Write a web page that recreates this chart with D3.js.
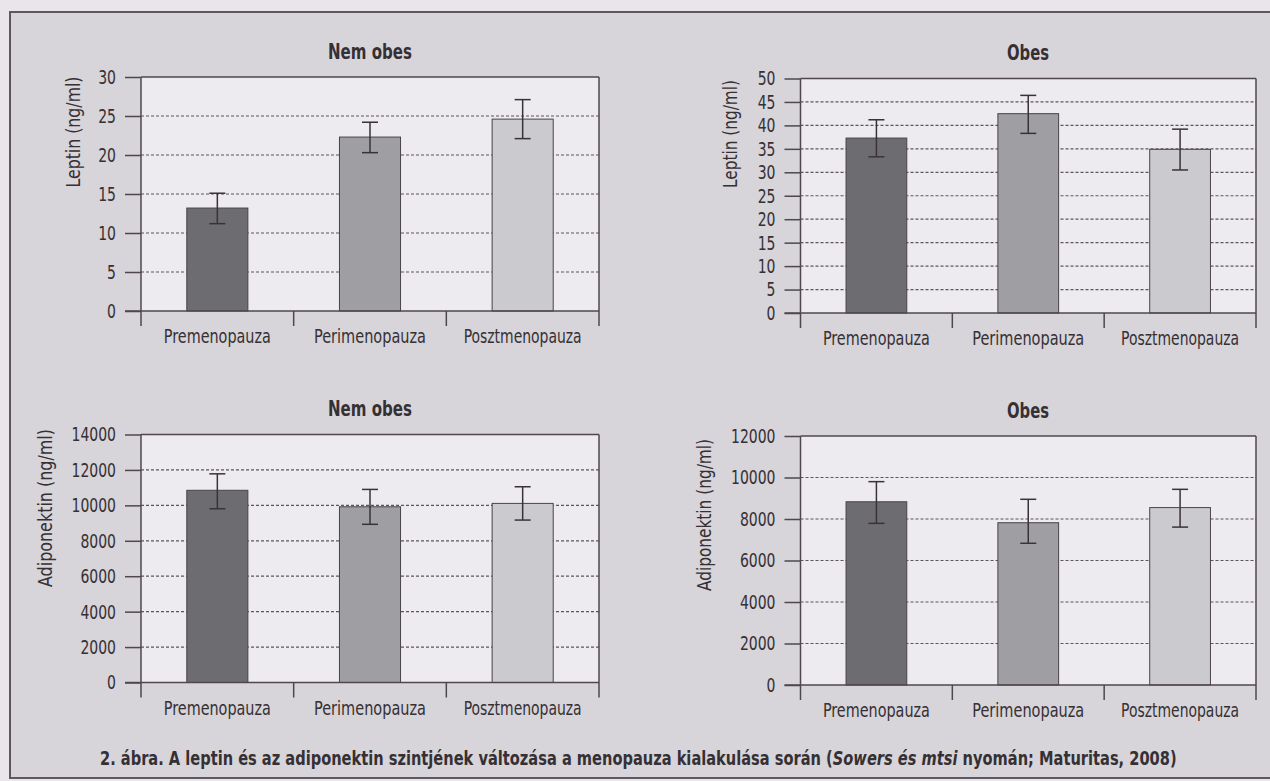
<!DOCTYPE html>
<html><head><meta charset="utf-8">
<script src="https://cdn.jsdelivr.net/npm/d3@7"></script>
<style>
body{margin:0;background:#e9e5ea;}
svg{display:block;}
text{font-family:"DejaVu Sans Condensed","Liberation Sans Narrow","Arial Narrow",sans-serif;fill:#353033;}
</style></head><body>
<svg id="c" width="1270" height="781"></svg>
<script>
// ---- data ----
const categories = ["Premenopauza", "Perimenopauza", "Posztmenopauza"];

const leptinNemObes     = [13.2, 22.3, 24.6];
const leptinNemObesLow  = [11.2, 20.3, 22.1];
const leptinNemObesHigh = [15.1, 24.2, 27.1];

const leptinObes     = [37.3, 42.5, 34.9];
const leptinObesLow  = [33.3, 38.3, 30.5];
const leptinObesHigh = [41.2, 46.4, 39.2];

const adipoNemObes     = [10850, 9920, 10110];
const adipoNemObesLow  = [9810, 8930, 9170];
const adipoNemObesHigh = [11780, 10900, 11050];

const adipoObes     = [8830, 7820, 8550];
const adipoObesLow  = [7790, 6830, 7610];
const adipoObesHigh = [9800, 8950, 9430];

const leptinTicksNemObes = [0, 5, 10, 15, 20, 25, 30];
const leptinTicksObes    = [0, 5, 10, 15, 20, 25, 30, 35, 40, 45, 50];
const adipoTicksNemObes  = [0, 2000, 4000, 6000, 8000, 10000, 12000, 14000];
const adipoTicksObes     = [0, 2000, 4000, 6000, 8000, 10000, 12000];

const titleNemObes = "Nem obes";
const titleObes = "Obes";
const yLabelLeptin = "Leptin (ng/ml)";
const yLabelAdipo = "Adiponektin (ng/ml)";
const captionParts = [
  {t: "2. ábra. A leptin és az adiponektin szintjének változása a menopauza kialakulása során (", italic: false},
  {t: "Sowers és mtsi", italic: true},
  {t: " nyomán; Maturitas, 2008)", italic: false}
];

// ---- layout ----
const barColors = ["#6d6c71", "#9f9ea3", "#cbcacf"];
const catLabelWidths = [107, 112, 118];
const panels = [
  {title: titleNemObes, yLabel: yLabelLeptin, v: leptinNemObes, lo: leptinNemObesLow, hi: leptinNemObesHigh, ticks: leptinTicksNemObes,
   x0: 141, x1: 599, yT: 77, yZ: 311, tx: 370, ty: 59, tw: 84, lx: 73, ly: 132, ll: 111},
  {title: titleObes, yLabel: yLabelLeptin, v: leptinObes, lo: leptinObesLow, hi: leptinObesHigh, ticks: leptinTicksObes,
   x0: 800.5, x1: 1256, yT: 78.5, yZ: 313, tx: 1028, ty: 60, tw: 42, lx: 730, ly: 134, ll: 108},
  {title: titleNemObes, yLabel: yLabelAdipo, v: adipoNemObes, lo: adipoNemObesLow, hi: adipoNemObesHigh, ticks: adipoTicksNemObes,
   x0: 141, x1: 599, yT: 434.5, yZ: 682.5, tx: 370, ty: 416, tw: 84, lx: 45, ly: 508, ll: 158},
  {title: titleObes, yLabel: yLabelAdipo, v: adipoObes, lo: adipoObesLow, hi: adipoObesHigh, ticks: adipoTicksObes,
   x0: 800.5, x1: 1256, yT: 436, yZ: 685, tx: 1028, ty: 418, tw: 42, lx: 704, ly: 515, ll: 152}
];

const svg = d3.select("#c");
svg.append("rect").attr("x", 0).attr("y", 0).attr("width", 1270).attr("height", 781).attr("fill", "#e9e5ea");
svg.append("rect").attr("x", 10).attr("y", 12).attr("width", 1275).attr("height", 766)
  .attr("fill", "#d7d4da").attr("stroke", "#5d585d").attr("stroke-width", 2);

const lineCol = "#4f474b";
const FONT = '"DejaVu Sans Condensed","Liberation Sans Narrow","Arial Narrow",sans-serif';

panels.forEach(p => {
  const g = svg.append("g");
  const x = d3.scaleBand().domain(categories).range([p.x0, p.x1]).paddingInner(0).paddingOuter(0);
  const y = d3.scaleLinear().domain([0, p.ticks[p.ticks.length - 1]]).range([p.yZ, p.yT]);

  g.append("rect").attr("x", p.x0).attr("y", p.yT).attr("width", p.x1 - p.x0).attr("height", p.yZ - p.yT)
    .attr("fill", "#edeaf0");

  g.selectAll(".grid").data(p.ticks.slice(1, -1)).join("line")
    .attr("x1", p.x0).attr("x2", p.x1).attr("y1", d => y(d)).attr("y2", d => y(d))
    .attr("stroke", "#5e5559").attr("stroke-width", 1.2).attr("stroke-dasharray", "3,2");

  const bw = x.bandwidth() * 0.4;
  g.selectAll(".bar").data(categories).join("rect")
    .attr("x", d => x(d) + (x.bandwidth() - bw) / 2)
    .attr("width", bw)
    .attr("y", (d, i) => y(p.v[i]))
    .attr("height", (d, i) => p.yZ - y(p.v[i]))
    .attr("fill", (d, i) => barColors[i])
    .attr("stroke", "#4a4347").attr("stroke-width", 1);

  const cx = d => x(d) + x.bandwidth() / 2;
  g.selectAll(".ev").data(categories).join("line")
    .attr("x1", cx).attr("x2", cx)
    .attr("y1", (d, i) => y(p.lo[i])).attr("y2", (d, i) => y(p.hi[i]))
    .attr("stroke", "#3a3336").attr("stroke-width", 1.5);
  ["lo", "hi"].forEach(k => {
    g.selectAll(".ec" + k).data(categories).join("line")
      .attr("x1", d => cx(d) - 8).attr("x2", d => cx(d) + 8)
      .attr("y1", (d, i) => y(p[k][i])).attr("y2", (d, i) => y(p[k][i]))
      .attr("stroke", "#3a3336").attr("stroke-width", 1.5);
  });

  const ya = g.append("g").attr("transform", `translate(${p.x0},0)`)
    .call(d3.axisLeft(y).tickValues(p.ticks).tickSize(16).tickPadding(9).tickFormat(d3.format("d")));
  ya.select(".domain").remove();
  ya.selectAll(".tick line").attr("stroke", lineCol).attr("stroke-width", 1.5);
  ya.selectAll(".tick text").attr("font-size", 20).attr("fill", "#353033").attr("font-family", FONT)
    .attr("textLength", d => String(d).length * 8.9).attr("lengthAdjust", "spacingAndGlyphs");

  const ext = 15;
  g.append("line").attr("x1", p.x0).attr("x2", p.x0).attr("y1", p.yT).attr("y2", p.yZ + ext).attr("stroke", lineCol).attr("stroke-width", 1.5);
  g.append("line").attr("x1", p.x1).attr("x2", p.x1).attr("y1", p.yT).attr("y2", p.yZ + ext).attr("stroke", lineCol).attr("stroke-width", 1.5);
  g.append("line").attr("x1", p.x0).attr("x2", p.x1).attr("y1", p.yT).attr("y2", p.yT).attr("stroke", lineCol).attr("stroke-width", 1.5);
  g.append("line").attr("x1", p.x0 - 16).attr("x2", p.x1).attr("y1", p.yZ).attr("y2", p.yZ).attr("stroke", lineCol).attr("stroke-width", 1.5);

  const xa = g.append("g").attr("transform", `translate(0,${p.yZ})`)
    .call(d3.axisBottom(x).tickSize(0).tickPadding(19));
  xa.select(".domain").remove();
  xa.selectAll(".tick text").attr("font-size", 19).attr("fill", "#353033").attr("font-family", FONT)
    .attr("textLength", (d, i) => catLabelWidths[i]).attr("lengthAdjust", "spacingAndGlyphs");
  g.selectAll(".bt").data(categories.slice(1)).join("line")
    .attr("x1", d => x(d)).attr("x2", d => x(d)).attr("y1", p.yZ).attr("y2", p.yZ + ext)
    .attr("stroke", lineCol).attr("stroke-width", 1.5);

  g.append("text").attr("x", p.tx).attr("y", p.ty).attr("text-anchor", "middle")
    .attr("font-size", 22).attr("font-weight", "bold")
    .attr("textLength", p.tw).attr("lengthAdjust", "spacingAndGlyphs").text(p.title);

  g.append("text").attr("transform", `translate(${p.lx},${p.ly}) rotate(-90)`)
    .attr("text-anchor", "middle").attr("dominant-baseline", "central")
    .attr("font-size", 20).attr("textLength", p.ll).attr("lengthAdjust", "spacingAndGlyphs")
    .text(p.yLabel);
});

const cap = svg.append("text").attr("x", 100).attr("y", 765).attr("font-size", 20).attr("font-weight", "bold");
cap.selectAll("tspan").data(captionParts).join("tspan")
  .attr("font-style", d => d.italic ? "italic" : "normal").text(d => d.t);
const cw = cap.node().getComputedTextLength();
cap.attr("transform", `translate(100,0) scale(${1077 / cw},1) translate(-100,0)`);
</script>
</body></html>
